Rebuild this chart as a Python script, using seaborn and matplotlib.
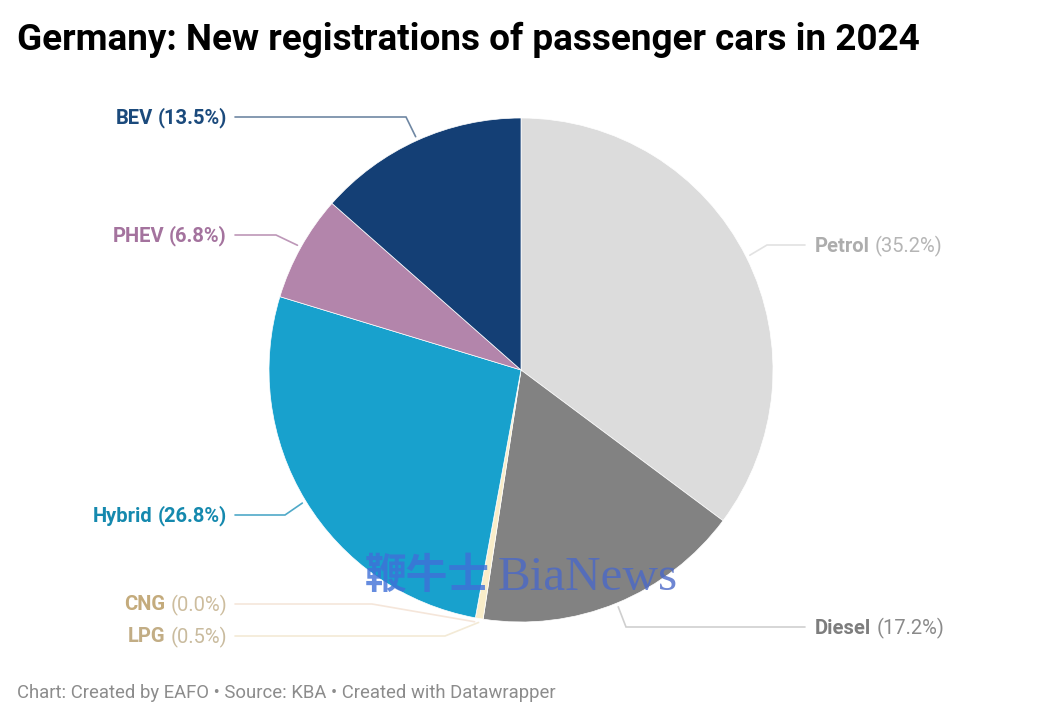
import numpy as np
import matplotlib
matplotlib.use("Agg")
import matplotlib.pyplot as plt
import seaborn as sns

categories = ["Petrol", "Diesel", "LPG", "CNG", "Hybrid", "PHEV", "BEV"]
shares = [35.2, 17.2, 0.5, 0.0, 26.8, 6.8, 13.5]

wedge_colors = ["#dcdcdc", "#828282", "#f9edc9", "#f9edc9", "#18a1cd", "#b385ab", "#143f75"]
name_colors = ["#adadad", "#7d7d7d", "#c2ad85", "#c4ab7c", "#1589ae", "#a4739e", "#1b4a7c"]
value_colors = ["#b5b5b5", "#8a8a8a", "#c9bb9e", "#cdbd9e", "#1589ae", "#a4739e", "#1b4a7c"]
line_colors = ["#e2e2e2", "#cfcfcf", "#f3ead6", "#f5e6da", "#4fa9c8", "#bd97b8", "#6f87a3"]
value_bold = [False, False, False, False, True, True, True]

# leader elbows and label rows, in picture pixels from the top left
elbow_x = [767, 626, 445, 372, 285, 276, 406]
label_y = [245, 627, 636, 604, 515, 235, 117]

W, H = 1042, 720
CX, CY, R = 521, 370, 252

sns.set_theme(style="white")
plt.rcParams["font.family"] = ["Roboto", "DejaVu Sans"]

fig = plt.figure(figsize=(W / 100, H / 100), dpi=100)
ax = fig.add_axes([0, 0, 1, 1])

ax.pie(shares, colors=sns.color_palette(wedge_colors), startangle=90, counterclock=False,
       center=(CX, H - CY), radius=R, frame=True,
       wedgeprops={"edgecolor": "white", "linewidth": 0.5})
ax.set_xlim(0, W)
ax.set_ylim(0, H)
ax.axis("off")

renderer = fig.canvas.get_renderer()
cum = np.cumsum(shares)
for i, cat in enumerate(categories):
    mid = (cum[i] - shares[i] / 2) / 100 * 2 * np.pi
    sx = CX + (R + 4) * np.sin(mid)
    sy = CY - (R + 4) * np.cos(mid)
    right = sx > CX
    end_x = 805 if right else 235
    ax.plot([sx, elbow_x[i], end_x], [H - sy, H - label_y[i], H - label_y[i]],
            color=line_colors[i], lw=1.2, solid_joinstyle="miter")

    val = f"({shares[i]:.1f}%)"
    fs = 14.5
    ty = H - label_y[i] - 1
    weight = "semibold" if value_bold[i] else "normal"
    if right:
        t = ax.text(815, ty, cat, ha="left", va="center", fontsize=fs,
                    fontweight="bold", color=name_colors[i])
        bb = t.get_window_extent(renderer)
        ax.text(bb.x1 + 5, ty, val, ha="left", va="center", fontsize=fs,
                fontweight=weight, color=value_colors[i])
    else:
        t = ax.text(227, ty, val, ha="right", va="center", fontsize=fs,
                    fontweight=weight, color=value_colors[i])
        bb = t.get_window_extent(renderer)
        ax.text(bb.x0 - 5, ty, cat, ha="right", va="center", fontsize=fs,
                fontweight="bold", color=name_colors[i])

ax.text(17, H - 39.5, "Germany: New registrations of passenger cars in 2024", ha="left", va="center",
        fontsize=26.56, fontweight="bold", color="#000000")
ax.text(17, H - 693, "Chart: Created by EAFO • Source: KBA • Created with Datawrapper", ha="left",
        va="center", fontsize=13.31, color="#8c8c8c")

# watermark across the lower part of the pie
ax.text(365, H - 576, "鞭牛士", ha="left", va="center", fontsize=30, fontweight="bold",
        family=["Noto Sans CJK SC", "DejaVu Sans"], color="#3f6fd8", alpha=0.8)
ax.text(498, H - 578, "BiaNews", ha="left", va="center", fontsize=35.4,
        family=["Liberation Serif", "DejaVu Serif"], color="#4a68c8", alpha=0.8)

fig.savefig("out.png", dpi=100)
